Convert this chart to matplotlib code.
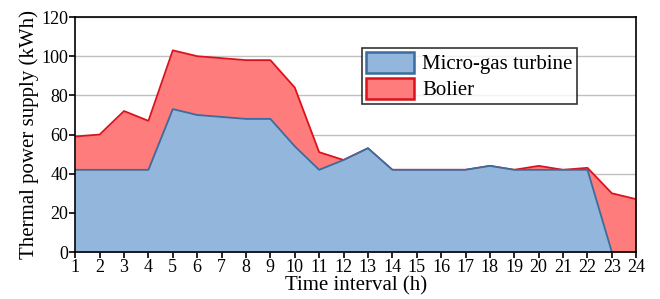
import numpy as np
import matplotlib.pyplot as plt
from matplotlib.patches import Patch

plt.rcParams['font.family'] = ['Liberation Serif', 'DejaVu Serif']

hours = np.arange(1, 25)
turbine = [42, 42, 42, 42, 73, 70, 69, 68, 68, 54, 42, 47,
           53, 42, 42, 42, 42, 44, 42, 42, 42, 42, 0, 0]
boiler = [17, 18, 30, 25, 30, 30, 30, 30, 30, 30, 9, 0,
          0, 0, 0, 0, 0, 0, 0, 2, 0, 1, 30, 27]

turbine = np.array(turbine)
total = turbine + np.array(boiler)

fig, ax = plt.subplots(figsize=(6.6, 2.99), dpi=100)
fig.subplots_adjust(left=0.114, right=0.964, bottom=0.157, top=0.943)

blue_fill, blue_edge = '#93b6dc', '#3a6c9e'
red_fill, red_edge = '#ff7c7c', '#dd111b'

ax.fill_between(hours, 0, total, color=red_fill, lw=0, zorder=2)
ax.plot(hours, total, color=red_edge, lw=1.3, zorder=3)
ax.fill_between(hours, 0, turbine, color=blue_fill, lw=0, zorder=4)
# turbine outline stops where it reaches zero
ax.plot(hours[:23], turbine[:23], color=blue_edge, lw=1.3, zorder=5)

ax.set_xlim(1, 24)
ax.set_ylim(0, 120)
ax.set_xticks(hours)
ax.set_yticks(range(0, 121, 20))
ax.yaxis.grid(True, color='#c0c0c0', lw=1)
ax.set_axisbelow(True)
ax.tick_params(labelsize=13, direction='out', length=4, width=1.2, pad=1)
for s in ax.spines.values():
    s.set_linewidth(1.2)
    s.set_zorder(6)

ax.set_xlabel('Time interval (h)', fontsize=15, labelpad=0)
ax.set_ylabel('Thermal power supply (kWh)', fontsize=15, labelpad=2)

handles = [Patch(facecolor=blue_fill, edgecolor=blue_edge, lw=1.8, label='Micro-gas turbine'),
           Patch(facecolor=red_fill, edgecolor=red_edge, lw=1.8, label='Bolier')]
leg = ax.legend(handles=handles, loc='upper left', bbox_to_anchor=(0.511, 0.87),
                fontsize=15, frameon=True, fancybox=False, edgecolor='black',
                handlelength=2.3, handleheight=1.2, handletextpad=0.4,
                borderpad=0.2, labelspacing=0.15, borderaxespad=0)
leg.get_frame().set_linewidth(1.2)

plt.savefig('out.png')
